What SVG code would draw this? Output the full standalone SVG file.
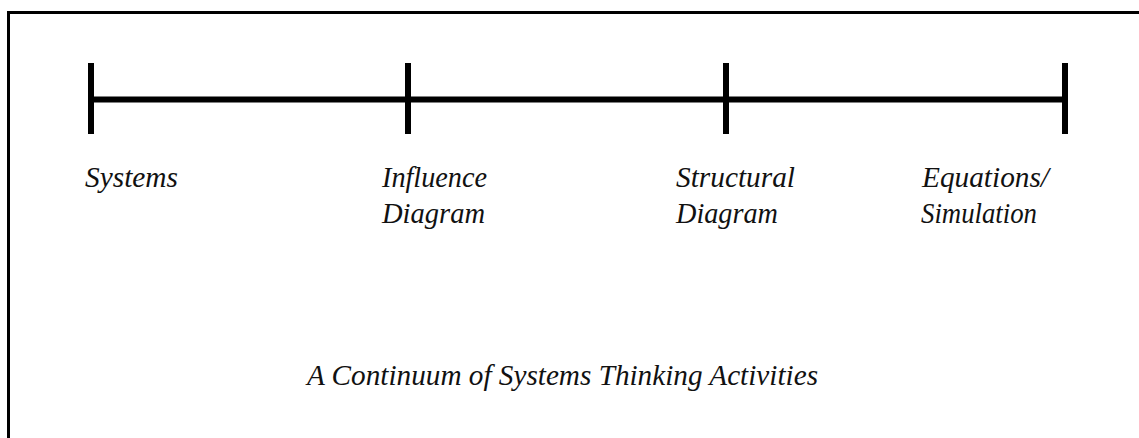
<svg xmlns="http://www.w3.org/2000/svg" width="1139" height="438" viewBox="0 0 1139 438">
  <style>
    .frame { fill: none; stroke: #000; stroke-width: 3; }
    .axis { stroke: #000; stroke-width: 6; stroke-linecap: butt; }
    .lbl { font-family: 'Liberation Serif', 'Times New Roman', Times, serif; font-style: italic; font-size: 29px; fill: #111; }
  </style>
  <rect width="1139" height="438" fill="#fff"/>
  <path class="frame" d="M8.5 438 V12.5 H1139"/>
  <g id="connectors">
    <line class="axis" x1="91" y1="99.5" x2="1065" y2="99.5"/>
  </g>
  <g id="tick-systems">
    <line class="axis" x1="91" y1="63" x2="91" y2="134"/>
    <text class="lbl" x="85" y="187" textLength="93" lengthAdjust="spacingAndGlyphs">Systems</text>
  </g>
  <g id="tick-influence">
    <line class="axis" x1="408" y1="63" x2="408" y2="134"/>
    <text class="lbl" x="382" y="187" textLength="105" lengthAdjust="spacingAndGlyphs">Influence</text>
    <text class="lbl" x="382" y="223" textLength="103" lengthAdjust="spacingAndGlyphs">Diagram</text>
  </g>
  <g id="tick-structural">
    <line class="axis" x1="726" y1="63" x2="726" y2="134"/>
    <text class="lbl" x="676" y="187" textLength="119" lengthAdjust="spacingAndGlyphs">Structural</text>
    <text class="lbl" x="676" y="223" textLength="102" lengthAdjust="spacingAndGlyphs">Diagram</text>
  </g>
  <g id="tick-equations">
    <line class="axis" x1="1065" y1="63" x2="1065" y2="134"/>
    <text class="lbl" x="922" y="187" textLength="127" lengthAdjust="spacingAndGlyphs">Equations/</text>
    <text class="lbl" x="921" y="223" textLength="116" lengthAdjust="spacingAndGlyphs">Simulation</text>
  </g>
  <g id="title">
    <text class="lbl" x="307" y="385" textLength="511" lengthAdjust="spacingAndGlyphs">A Continuum of Systems Thinking Activities</text>
  </g>
</svg>
